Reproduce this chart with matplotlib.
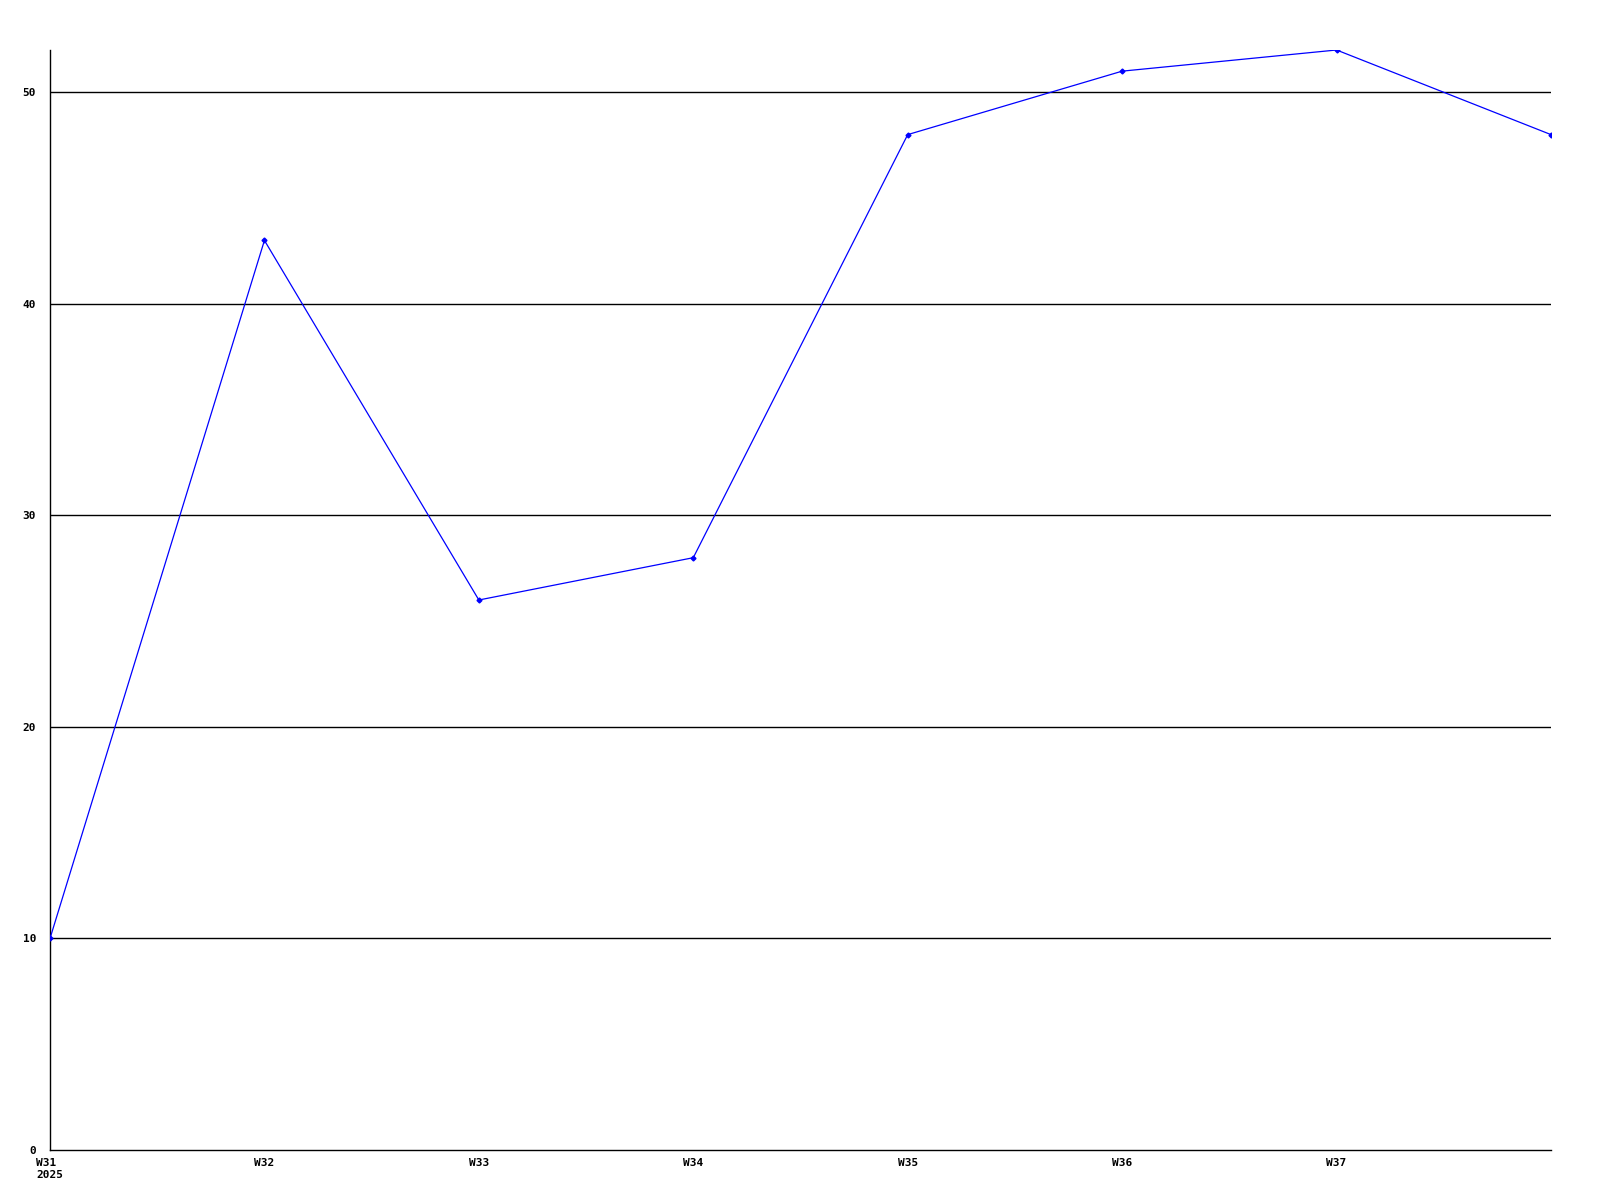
import matplotlib
matplotlib.use("Agg")
import matplotlib.pyplot as plt

weeks = ["W31", "W32", "W33", "W34", "W35", "W36", "W37", "W38"]
values = [10, 43, 26, 28, 48, 51, 52, 48]
tick_labels = ["W31\n2025", "W32", "W33", "W34", "W35", "W36", "W37"]
y_ticks = [0, 10, 20, 30, 40, 50]

plt.rcParams['font.family'] = ['DejaVu Sans Mono']
fig = plt.figure(figsize=(16, 12), dpi=100)
ax = fig.add_axes([50/1600, 50/1200, 1501/1600, 1100/1200])

x = list(range(len(weeks)))
ax.plot(x, values, color="#0000ff", linewidth=0.9, marker="D",
        markersize=2.5, zorder=3)

ax.set_xlim(0, len(weeks) - 1)
ax.set_ylim(0, 52)
ax.set_xticks(x[:-1])
ax.set_xticklabels(tick_labels, fontsize=8, fontweight="bold")
for lbl in ax.get_xticklabels():
    lbl.set_multialignment("left")
ax.set_yticks(y_ticks)
ax.set_yticklabels([str(v) for v in y_ticks], fontsize=8, fontweight="bold")
ax.tick_params(axis="both", length=0)
ax.tick_params(axis="x", pad=6)
ax.tick_params(axis="y", pad=10)

for v in y_ticks[1:]:
    ax.axhline(v, color="black", linewidth=1.0, zorder=1)

ax.spines["top"].set_visible(False)
ax.spines["right"].set_visible(False)
ax.spines["left"].set_linewidth(1.0)
ax.spines["bottom"].set_linewidth(1.0)

fig.savefig("out.png", dpi=100)
